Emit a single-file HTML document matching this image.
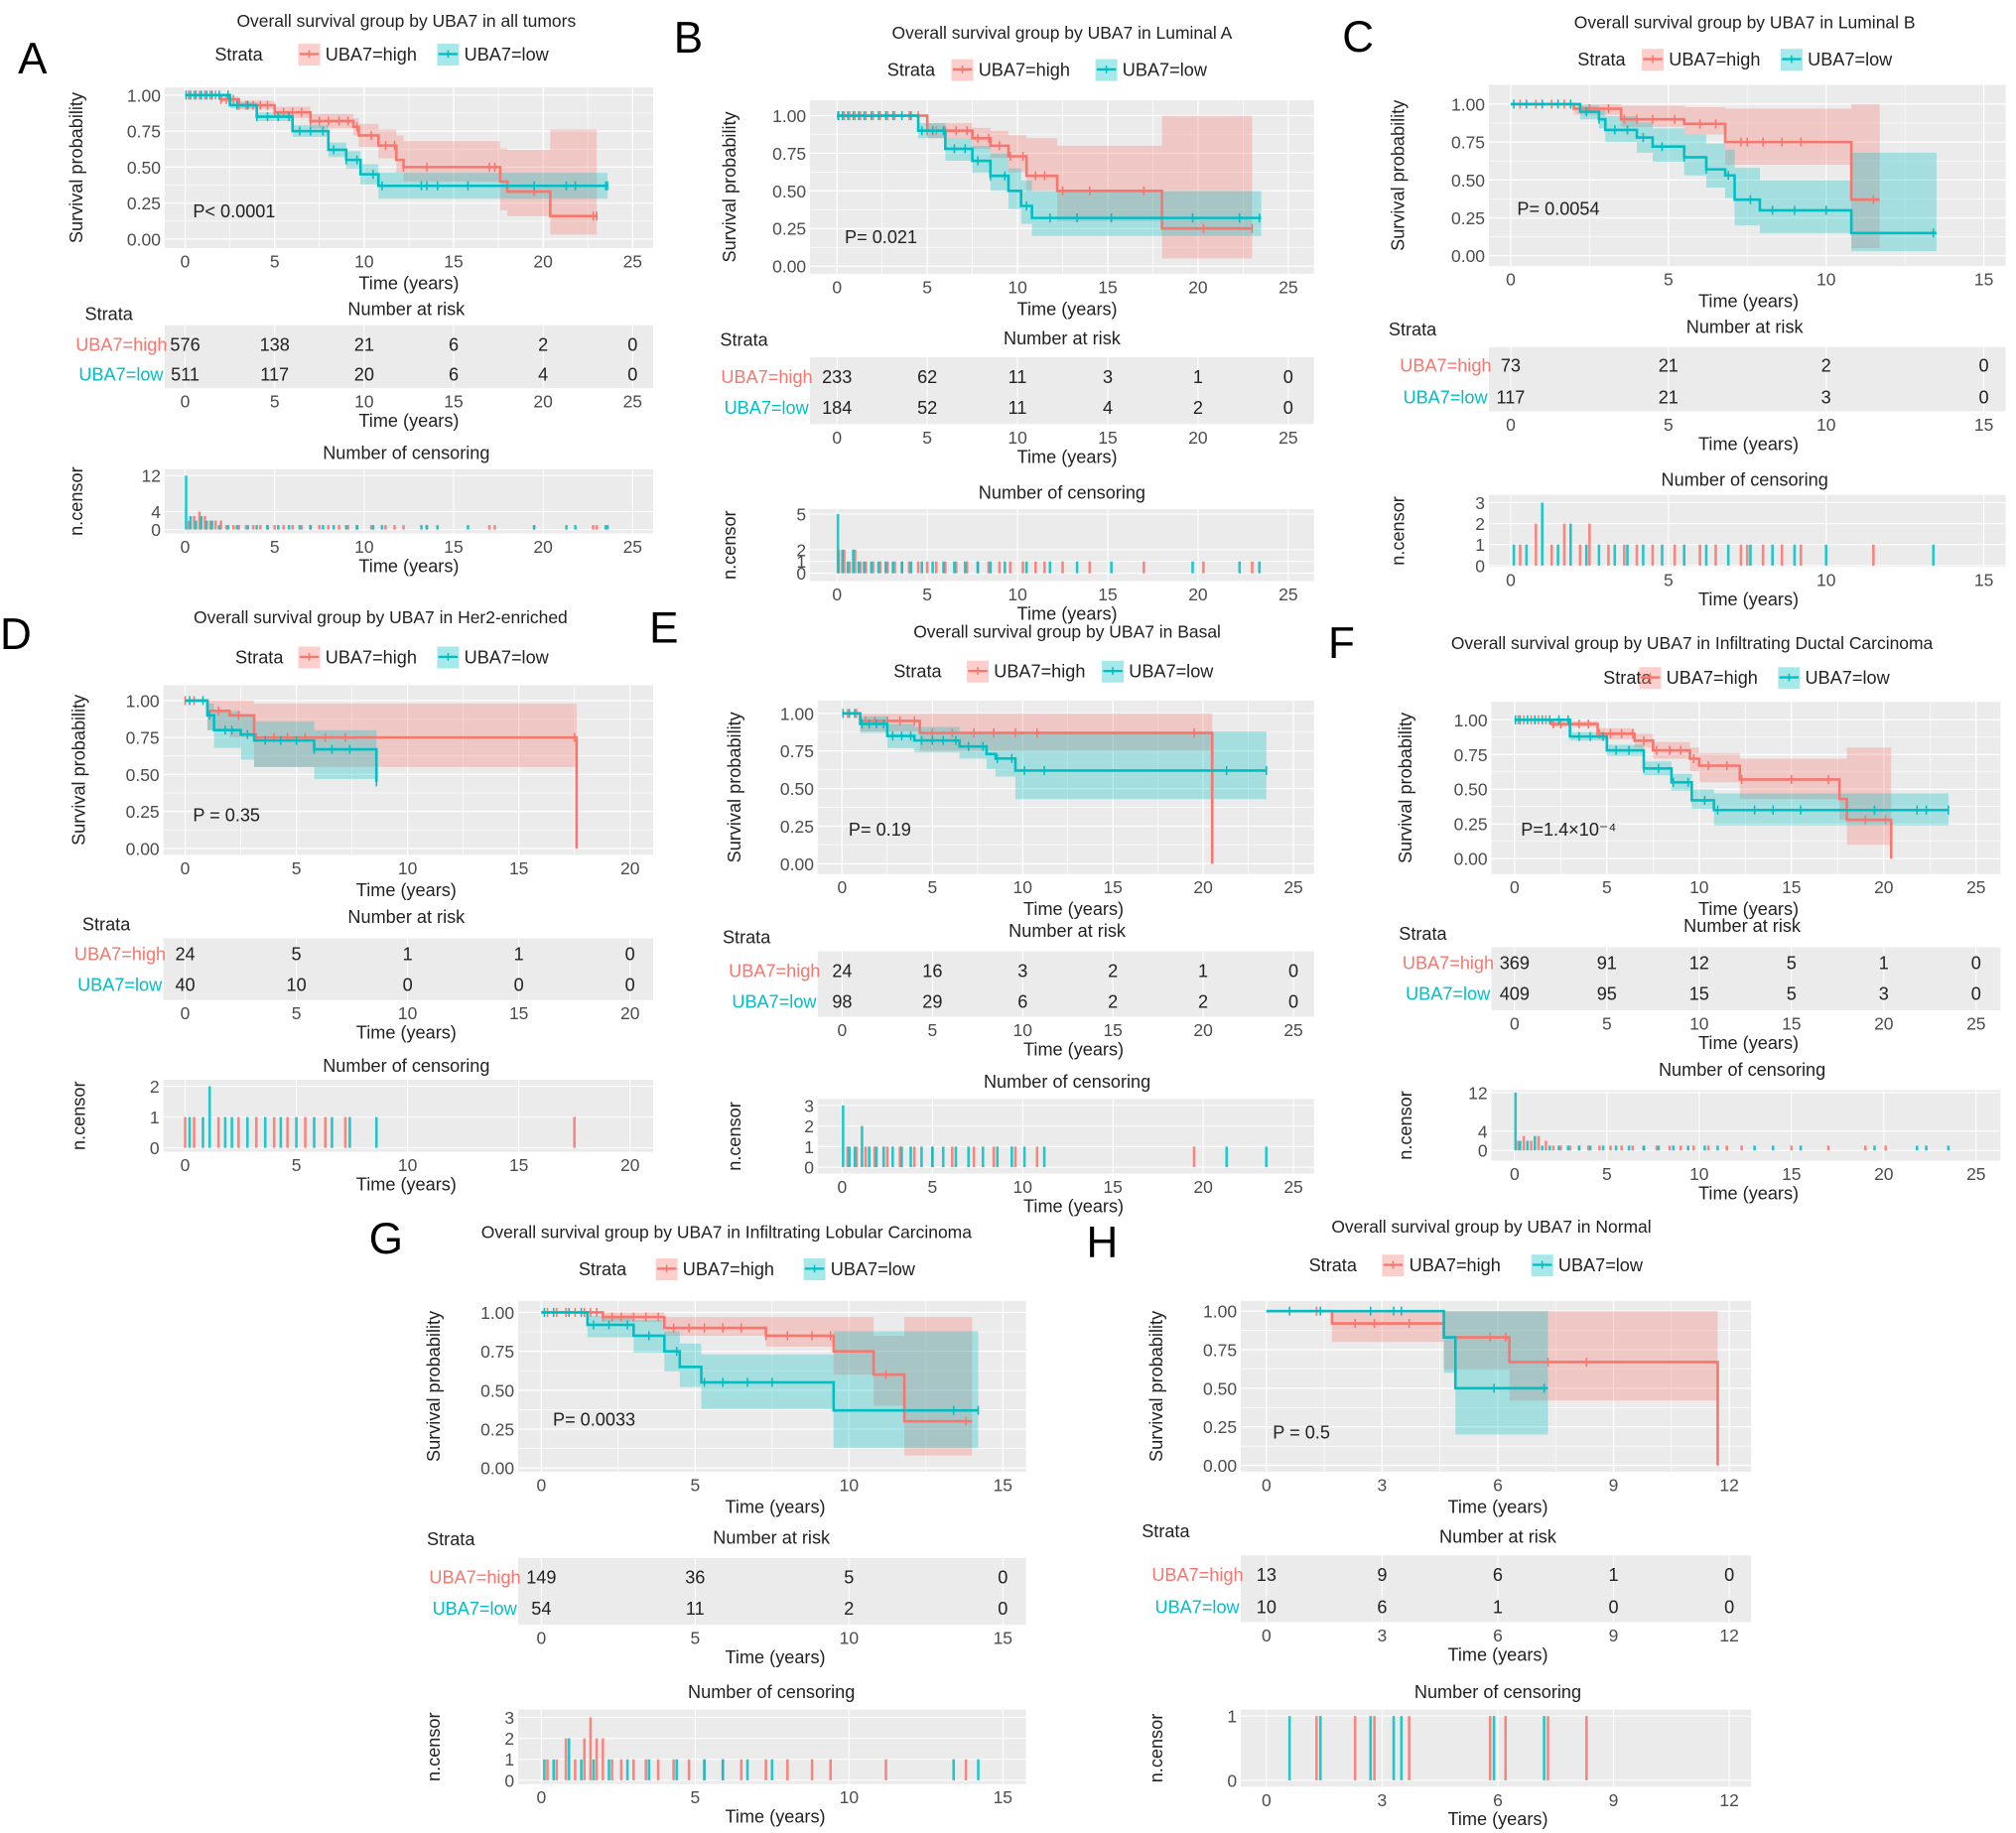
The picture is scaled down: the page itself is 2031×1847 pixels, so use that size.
<!DOCTYPE html>
<html><head><meta charset="utf-8"><title>UBA7 survival</title>
<style>
html,body{margin:0;padding:0;background:#fff;}
svg{display:block;font-family:"Liberation Sans",Arial,sans-serif;}
</style></head>
<body>
<svg id="fig" width="2031" height="1847" viewBox="0 0 1568 1426" xmlns="http://www.w3.org/2000/svg"></svg>
<script>
// ---------------- DATA ----------------
// Panel A
const aHighT=[0,2,3,5,7,9.4,9.7,10.8,11.8,12.2,17.6,18,20.4,23];
const aHighS=[1,.97,.93,.88,.82,.78,.72,.65,.55,.5,.4,.33,.16,.16];
const aHighHi=[1,.99,.96,.92,.87,.84,.8,.76,.72,.68,.63,.62,.76,.76];
const aHighLo=[1,.95,.9,.84,.77,.72,.64,.56,.46,.4,.2,.16,.03,.03];
const aLowT=[0,2.5,4,6,8,9,9.8,10.8,23.6];
const aLowS=[1,.93,.85,.75,.62,.55,.45,.37,.37];
const aLowHi=[1,.95,.88,.79,.67,.61,.52,.46,.46];
const aLowLo=[1,.91,.82,.71,.57,.49,.38,.28,.28];
const aHighC=[0.2,0.5,0.8,1.1,1.4,1.7,2,2.3,2.7,3,3.4,3.8,4.2,4.6,5,5.5,6,6.5,7,7.5,8,8.6,9.1,9.6,10.4,11.2,11.7,12.2,13.5,17,17.3,19.5,22.8,23];
const aHighCN=[2,3,4,3,2,2,2];
const aLowC=[0.05,0.3,0.6,0.9,1.2,1.5,1.9,2.4,2.9,3.5,4,4.6,5.2,5.8,6.4,7,7.7,8.3,9,9.6,10.5,11,13.2,13.5,14.1,15.8,19.5,21.3,21.8,23.5,23.6];
const aLowCN=[12,3,2,3,2,2];
const aRiskHigh=[576,138,21,6,2,0];
const aRiskLow=[511,117,20,6,4,0];
// Panel B
const bHighT=[0,5,7.5,8.5,9.5,10.5,12.2,18,23];
const bHighS=[1,.9,.85,.8,.73,.6,.5,.25,.25];
const bHighHi=[1,.95,.92,.9,.87,.85,.8,1,1];
const bHighLo=[1,.85,.78,.72,.62,.5,.3,.05,.05];
const bLowT=[0,4.5,6,7.5,8.5,9.5,10.2,10.8,23.5];
const bLowS=[1,.9,.78,.7,.6,.5,.4,.32,.32];
const bLowHi=[1,.95,.85,.8,.75,.65,.57,.5,.5];
const bLowLo=[1,.85,.7,.62,.5,.38,.28,.2,.2];
const bHighC=[0.1,0.4,0.7,1,1.3,1.6,2,2.4,2.8,3.2,3.6,4,4.5,5,5.5,6,6.6,7.2,7.8,8.4,9,9.6,10.3,11,11.5,12.5,14,17,20.3,23];
const bHighCN=[2,2,1,2];
const bLowC=[0.05,0.3,0.6,0.9,1.2,1.5,1.9,2.3,2.7,3.1,3.6,4.1,4.7,5.3,5.9,6.5,7.1,7.8,8.5,9.3,10.5,11.8,13.3,15.2,19.7,22.3,23.4];
const bLowCN=[5,2,1,2];
const bRiskHigh=[233,62,11,3,1,0];
const bRiskLow=[184,52,11,4,2,0];
// Panel C
const cHighT=[0,2,3.5,5.5,6.8,10.8,11.7];
const cHighS=[1,.97,.9,.87,.75,.37,.37];
const cHighHi=[1,1,.99,.98,.97,1,1];
const cHighLo=[1,.93,.85,.8,.6,.05,.05];
const cLowT=[0,2.2,2.8,3,4,4.5,5.5,6.2,6.8,7.1,7.9,10.8,13.5];
const cLowS=[1,.95,.9,.83,.78,.72,.65,.57,.53,.37,.3,.15,.15];
const cLowHi=[1,.99,.96,.92,.88,.84,.8,.74,.7,.58,.5,.68,.68];
const cLowLo=[1,.9,.84,.75,.68,.62,.53,.45,.38,.2,.15,.03,.03];
const cHighC=[0.3,0.8,1.3,1.7,2.2,2.5,3.1,3.6,4,4.5,5.2,6,6.5,7.3,7.5,8,8.6,9.2,11.5];
const cHighCN=[1,2,1,2,1,2];
const cLowC=[0.1,0.5,1,1.5,1.9,2.4,2.8,3.3,3.7,4.2,4.8,5.5,6.2,6.9,7.6,8.3,9,10,13.4];
const cLowCN=[1,1,3,1,2];
const cRiskHigh=[73,21,2,0];
const cRiskLow=[117,21,3,0];
// Panel D
const dHighT=[0,1,2,3.1,17.6];
const dHighS=[1,.93,.9,.75,0];
const dHighHi=[1,1,1,.98,.98];
const dHighLo=[1,.8,.75,.55,.55];
const dLowT=[0,1,1.3,2.5,3.1,5.8,8.6];
const dLowS=[1,.9,.8,.77,.73,.67,.45];
const dLowHi=[1,.98,.93,.9,.86,.8,1];
const dLowLo=[1,.8,.68,.6,.55,.47,.2];
const dHighC=[0,0.4,1.5,2.4,3.2,4,4.6,5.4,6.3,7.2,17.5];
const dHighCN=[1];
const dLowC=[0.2,0.8,1.1,1.8,2.1,2.8,3.6,4.3,5,5.8,6.6,7.4,8.6];
const dLowCN=[1,1,2];
const dRiskHigh=[24,5,1,1,0];
const dRiskLow=[40,10,0,0,0];
// Panel E
const eHighT=[0,1,4.3,20.5];
const eHighS=[1,.95,.87,0];
const eHighHi=[1,1,1,1];
const eHighLo=[1,.88,.75,.75];
const eLowT=[0,1,2.5,4,6.5,8,8.5,9.6,23.5];
const eLowS=[1,.93,.85,.82,.78,.73,.7,.62,.62];
const eLowHi=[1,.98,.93,.91,.88,.88,.88,.88,.88];
const eLowLo=[1,.87,.77,.74,.7,.63,.58,.43,.43];
const eHighC=[0.3,0.8,1.3,1.8,2.5,3.2,4,5,6.1,7.3,8.4,9.6,10.8,19.5];
const eHighCN=[1];
const eLowC=[0.05,0.4,0.7,1.1,1.5,1.9,2.3,2.8,3.3,3.8,4.4,5,5.6,6.3,7,7.8,8.6,9.4,10.1,11.2,21.3,23.5];
const eLowCN=[3,1,1,2];
const eRiskHigh=[24,16,3,2,1,0];
const eRiskLow=[98,29,6,2,2,0];
// Panel F
const fHighT=[0,2,4.5,6.5,7.5,9.5,10,12.2,17.6,18,20.4];
const fHighS=[1,.97,.9,.85,.78,.72,.67,.57,.43,.28,0];
const fHighHi=[1,.99,.94,.9,.84,.8,.76,.72,.72,.8,.8];
const fHighLo=[1,.95,.86,.8,.72,.63,.55,.43,.28,.1,.1];
const fLowT=[0,3,5,7,8.5,9.6,10.8,23.5];
const fLowS=[1,.88,.78,.65,.55,.42,.35,.35];
const fLowHi=[1,.91,.82,.7,.61,.5,.47,.47];
const fLowLo=[1,.85,.74,.6,.49,.36,.24,.24];
const fHighC=[0.2,0.5,0.9,1.3,1.7,2.1,2.5,3,3.5,4,4.6,5.2,5.8,6.4,7,7.7,8.4,9,9.7,10.5,11.5,12.3,15,17,19,20.1];
const fHighCN=[2,3,2,3,2];
const fLowC=[0.05,0.3,0.7,1.1,1.5,1.9,2.4,2.9,3.5,4.1,4.8,5.5,6.2,7,7.8,8.6,9.4,10.3,11,13,14,15.5,19.5,21.8,22.3,23.5];
const fLowCN=[12,2,2,3];
const fRiskHigh=[369,91,12,5,1,0];
const fRiskLow=[409,95,15,5,3,0];
// Panel G
const gHighT=[0,2,4,7.3,9.5,10.8,11.8,14];
const gHighS=[1,.97,.9,.85,.75,.6,.3,.3];
const gHighHi=[1,1,.97,.97,.97,.85,.97,.97];
const gHighLo=[1,.94,.85,.78,.6,.4,.08,.08];
const gLowT=[0,1.5,3,4,4.5,5.2,9.5,14.2];
const gLowS=[1,.92,.85,.75,.65,.55,.37,.37];
const gLowHi=[1,.98,.95,.88,.8,.73,.88,.88];
const gLowLo=[1,.84,.74,.62,.52,.38,.13,.13];
const gHighC=[0.2,0.5,0.8,1.1,1.4,1.6,1.8,2,2.3,2.6,3,3.4,3.8,4.3,4.8,5.3,5.9,6.5,7.3,8,8.8,9.4,11.2,13.8];
const gHighCN=[1,1,2,1,2,3,2,2];
const gLowC=[0.1,0.4,0.9,1.3,1.7,2.2,2.8,3.5,4.4,5.3,5.9,6.7,7.5,13.4,14.2];
const gLowCN=[1,1,2];
const gRiskHigh=[149,36,5,0];
const gRiskLow=[54,11,2,0];
// Panel H
const hHighT=[0,1.7,4.6,6.3,11.7];
const hHighS=[1,.92,.83,.67,0];
const hHighHi=[1,1,1,1,1];
const hHighLo=[1,.8,.62,.42,.42];
const hLowT=[0,4.6,4.9,7.3];
const hLowS=[1,.83,.5,.5];
const hLowHi=[1,1,1,1];
const hLowLo=[1,.6,.2,.2];
const hHighC=[1.3,2.3,2.8,3.7,5.8,6.2,7.3,8.3];
const hHighCN=[1];
const hLowC=[0.6,1.4,2.7,3.3,3.5,5.9,7.2];
const hLowCN=[1];
const hRiskHigh=[13,9,6,1,0];
const hRiskLow=[10,6,1,0,0];

// ---------------- DRAWING ----------------
const RED='#F8766D', TEAL='#00BFC4', NS='http://www.w3.org/2000/svg';
const FS=14, FT=13.5;
const svg=document.getElementById('fig');
function el(tag,attrs,parent,text){const e=document.createElementNS(NS,tag);for(const k in attrs)e.setAttribute(k,attrs[k]);if(text!==undefined)e.textContent=text;(parent||svg).appendChild(e);return e;}
function txt(x,y,s,size,anchor,fill,parent,name){const t=el('text',{x:x,y:y,'font-size':size,'text-anchor':anchor||'middle',fill:fill||'#000'},parent,s);


return t;}
function survAt(T,S,c){let s=S[0];for(let i=0;i<T.length;i++){if(T[i]<=c)s=S[i];}return s;}
function stepPath(T,V,xs,ys){let d='M'+xs(T[0])+','+ys(V[0]);for(let i=1;i<T.length;i++){d+=' H'+xs(T[i])+' V'+ys(V[i]);}return d;}
function bandPath(T,H,L,xs,ys){let d='M'+xs(T[0])+','+ys(H[0]);for(let i=1;i<T.length;i++){d+=' H'+xs(T[i])+' V'+ys(H[i]);}
 const n=T.length-1;d+=' V'+ys(L[n]);for(let i=n;i>0;i--){d+=' H'+xs(T[i])+' V'+ys(L[i-1]);}d+=' H'+xs(T[0])+' Z';return d;}

function panel(p){
 const g=el('g',{});
 
 
 txt(p.letterX,p.letterY,p.id,34,'start','#000',g,'panel-letter');
 txt(p.titleX,p.titleY,p.title,13.5,'middle','#222',g,'chart-title');
 const lg=el('g',{},g);
 
 
 txt(p.legStrata,p.legY+5,'Strata',FS,'start','#222',lg,'legend-title');
 [[p.legHi,RED,'UBA7=high'],[p.legLo,TEAL,'UBA7=low']].forEach(function(it){
  const bx=el('rect',{x:it[0],y:p.legY-8,width:17,height:17,fill:it[1],'fill-opacity':.35},lg);
  
  
  el('line',{x1:it[0]+1,x2:it[0]+16,y1:p.legY,y2:p.legY,stroke:it[1],'stroke-width':1.8},lg);
  el('line',{x1:it[0]+8.5,x2:it[0]+8.5,y1:p.legY-3,y2:p.legY+3,stroke:it[1],'stroke-width':1.2},lg);
  txt(it[0]+21,p.legY+5,it[2],FS,'start','#222',lg,'legend-entry');
 });
 const xs=function(t){return p.x0+(p.x1-p.x0)*t/p.xmax;};
 const mp=el('g',{},g);
 
 
 const ys=function(s){return p.yB+(p.yT-p.yB)*s;};
 el('rect',{x:p.bgL,y:p.mT,width:p.bgR-p.bgL,height:p.mB-p.mT,fill:'#EBEBEB'},mp);
 const ticks=[];for(let v=0;v<=p.xmax+1e-9;v+=p.xstep)ticks.push(v);
 ticks.forEach(function(v,i){el('line',{x1:xs(v),x2:xs(v),y1:p.mT,y2:p.mB,stroke:'#fff','stroke-width':1},mp);
   if(i<ticks.length-1)el('line',{x1:xs(v+p.xstep/2),x2:xs(v+p.xstep/2),y1:p.mT,y2:p.mB,stroke:'#fff','stroke-width':.5},mp);});
 [0,.25,.5,.75,1].forEach(function(v,i){el('line',{x1:p.bgL,x2:p.bgR,y1:ys(v),y2:ys(v),stroke:'#fff','stroke-width':1},mp);
   if(i<4)el('line',{x1:p.bgL,x2:p.bgR,y1:ys(v+.125),y2:ys(v+.125),stroke:'#fff','stroke-width':.5},mp);
   txt(p.bgL-3,ys(v)+5,v.toFixed(2),FT,'end','#4d4d4d',mp,'y-tick-label');});
 ticks.forEach(function(v){txt(xs(v),p.mB+15,String(v),FT,'middle','#4d4d4d',mp,'x-tick-label');});
 txt(p.xlabX,p.mB+32,'Time (years)',FS,'middle','#222',mp,'x-axis-title');
 const yl=txt(0,0,'Survival probability',FS,'middle','#222',mp,'y-axis-title');
 yl.setAttribute('transform','translate('+p.ylabX+','+(p.mT+p.mB)/2+') rotate(-90)');
 const curves=[[p.hT,p.hS,p.hHi,p.hLo,p.hC,RED,'high'],[p.lT,p.lS,p.lHi,p.lLo,p.lC,TEAL,'low']];
 curves.forEach(function(c){
  const b=el('path',{d:bandPath(c[0],c[2],c[3],xs,ys),fill:c[5],'fill-opacity':.3,stroke:'none'},mp);
  
  
 });
 curves.forEach(function(c){
  const l=el('path',{d:stepPath(c[0],c[1],xs,ys),fill:'none',stroke:c[5],'stroke-width':2},mp);
  
  
  c[4].forEach(function(t){const s=survAt(c[0],c[1],t);
   el('line',{x1:xs(t),x2:xs(t),y1:ys(s)-3.5,y2:ys(s)+3.5,stroke:c[5],'stroke-width':1.2},mp);});
 });
 txt(p.pX,p.pY,p.pText,FS,'start','#222',mp,'p-value');
 const rt=el('g',{},g);
 
 
 txt(p.rStrataX,p.rStrataY,'Strata',FS,'start','#222',rt,'risk-strata-title');
 txt(p.titleX2,p.rTitleY,'Number at risk',FS,'middle','#222',rt,'risk-title');
 el('rect',{x:p.bgL,y:p.rT,width:p.bgR-p.bgL,height:p.rB-p.rT,fill:'#EBEBEB'},rt);
 ticks.forEach(function(v){el('line',{x1:xs(v),x2:xs(v),y1:p.rT,y2:p.rB,stroke:'#fff','stroke-width':.8},rt);});
 txt(p.bgL+2,p.r1+5,'UBA7=high',FS,'end',RED,rt,'risk-label-high');
 txt(p.bgL-1,p.r2+5,'UBA7=low',FS,'end',TEAL,rt,'risk-label-low');
 p.rH.forEach(function(n,i){txt(xs(ticks[i]),p.r1+5,String(n),FS,'middle','#222',rt,'risk-value-high');});
 p.rL.forEach(function(n,i){txt(xs(ticks[i]),p.r2+5,String(n),FS,'middle','#222',rt,'risk-value-low');});
 ticks.forEach(function(v){txt(xs(v),p.rB+15,String(v),FT,'middle','#4d4d4d',rt,'risk-x-tick');});
 txt(p.xlabX,p.rB+30,'Time (years)',FS,'middle','#222',rt,'risk-x-title');
 const cp=el('g',{},g);
 
 
 txt(p.titleX2,p.cTitleY,'Number of censoring',FS,'middle','#222',cp,'censor-title');
 el('rect',{x:p.bgL,y:p.cT,width:p.bgR-p.bgL,height:p.cB-p.cT,fill:'#EBEBEB'},cp);
 const cy=function(n){return p.c0+(p.cTop-p.c0)*n/p.cMax;};
 ticks.forEach(function(v){el('line',{x1:xs(v),x2:xs(v),y1:p.cT,y2:p.cB,stroke:'#fff','stroke-width':.8},cp);});
 p.cTicks.forEach(function(v){el('line',{x1:p.bgL,x2:p.bgR,y1:cy(v),y2:cy(v),stroke:'#fff','stroke-width':.8},cp);
   txt(p.bgL-3,cy(v)+5,String(v),FT,'end','#4d4d4d',cp,'censor-y-tick');});
 [[p.hC,p.hCN,RED],[p.lC,p.lCN,TEAL]].forEach(function(c){
  c[0].forEach(function(t,i){const n=c[1][i]||1;
   const r=el('rect',{x:xs(t)-1,y:cy(n),width:2,height:cy(0)-cy(n),fill:c[2],'fill-opacity':.85},cp);
   
   
  });});
 ticks.forEach(function(v){txt(xs(v),p.cB+15,String(v),FT,'middle','#4d4d4d',cp,'censor-x-tick');});
 txt(p.xlabX,p.cB+30,'Time (years)',FS,'middle','#222',cp,'censor-x-title');
 const cl=txt(0,0,'n.censor',FS,'middle','#222',cp,'censor-y-title');
 cl.setAttribute('transform','translate('+p.ylabX+','+(p.cT+p.cB)/2+') rotate(-90)');
}
function T(s){return 'Overall survival group by UBA7 in '+s;}

panel({id:'A',letterX:14,letterY:57,title:T('all tumors'),titleX:316,titleY:21,titleX2:316,
 legY:42,legStrata:167,legHi:232,legLo:340,
 bgL:128,bgR:508,mT:68,mB:193,x0:144,x1:492,xmax:25,xstep:5,yT:74,yB:186,xlabX:318,ylabX:64,
 pX:150,pY:169,pText:'P< 0.0001',
 hT:aHighT,hS:aHighS,hHi:aHighHi,hLo:aHighLo,hC:aHighC,hCN:aHighCN,
 lT:aLowT,lS:aLowS,lHi:aLowHi,lLo:aLowLo,lC:aLowC,lCN:aLowCN,
 rStrataX:66,rStrataY:249,rTitleY:245,rT:253,rB:302,r1:268,r2:291,rH:aRiskHigh,rL:aRiskLow,
 cTitleY:357,cT:365,cB:415,c0:412,cTop:370,cMax:12,cTicks:[0,4,12]});
panel({id:'B',letterX:524,letterY:41,title:T('Luminal A'),titleX:826,titleY:30,titleX2:826,
 legY:54,legStrata:690,legHi:740,legLo:852,
 bgL:630,bgR:1022,mT:78,mB:213,x0:651,x1:1002,xmax:25,xstep:5,yT:90,yB:207,xlabX:830,ylabX:572,
 pX:657,pY:189,pText:'P= 0.021',
 hT:bHighT,hS:bHighS,hHi:bHighHi,hLo:bHighLo,hC:bHighC,hCN:bHighCN,
 lT:bLowT,lS:bLowS,lHi:bLowHi,lLo:bLowLo,lC:bLowC,lCN:bLowCN,
 rStrataX:560,rStrataY:269,rTitleY:268,rT:278,rB:330,r1:293,r2:317,rH:bRiskHigh,rL:bRiskLow,
 cTitleY:388,cT:396,cB:452,c0:446,cTop:400,cMax:5,cTicks:[0,1,2,5]});
panel({id:'C',letterX:1044,letterY:40,title:T('Luminal B'),titleX:1357,titleY:22,titleX2:1357,
 legY:46,legStrata:1227,legHi:1277,legLo:1385,
 bgL:1158,bgR:1560,mT:66,mB:207,x0:1175,x1:1543,xmax:15,xstep:5,yT:81,yB:199,xlabX:1360,ylabX:1092,
 pX:1180,pY:167,pText:'P= 0.0054',
 hT:cHighT,hS:cHighS,hHi:cHighHi,hLo:cHighLo,hC:cHighC,hCN:cHighCN,
 lT:cLowT,lS:cLowS,lHi:cLowHi,lLo:cLowLo,lC:cLowC,lCN:cLowCN,
 rStrataX:1080,rStrataY:261,rTitleY:259,rT:270,rB:320,r1:284,r2:309,rH:cRiskHigh,rL:cRiskLow,
 cTitleY:378,cT:385,cB:441,c0:440,cTop:391,cMax:3,cTicks:[0,1,2,3]});
panel({id:'D',letterX:0,letterY:505,title:T('Her2-enriched'),titleX:296,titleY:485,titleX2:316,
 legY:511,legStrata:183,legHi:232,legLo:340,
 bgL:127,bgR:508,mT:533,mB:665,x0:144,x1:490,xmax:20,xstep:5,yT:545,yB:660,xlabX:316,ylabX:66,
 pX:150,pY:639,pText:'P = 0.35',
 hT:dHighT,hS:dHighS,hHi:dHighHi,hLo:dHighLo,hC:dHighC,hCN:dHighCN,
 lT:dLowT,lS:dLowS,lHi:dLowHi,lLo:dLowLo,lC:dLowC,lCN:dLowCN,
 rStrataX:64,rStrataY:724,rTitleY:718,rT:730,rB:778,r1:742,r2:766,rH:dRiskHigh,rL:dRiskLow,
 cTitleY:834,cT:840,cB:896,c0:893,cTop:845,cMax:2,cTicks:[0,1,2]});
panel({id:'E',letterX:505,letterY:500,title:T('Basal'),titleX:830,titleY:496,titleX2:830,
 legY:522,legStrata:695,legHi:752,legLo:857,
 bgL:636,bgR:1022,mT:545,mB:680,x0:655,x1:1006,xmax:25,xstep:5,yT:555,yB:672,xlabX:835,ylabX:576,
 pX:660,pY:650,pText:'P= 0.19',
 hT:eHighT,hS:eHighS,hHi:eHighHi,hLo:eHighLo,hC:eHighC,hCN:eHighCN,
 lT:eLowT,lS:eLowS,lHi:eLowHi,lLo:eLowLo,lC:eLowC,lCN:eLowCN,
 rStrataX:562,rStrataY:734,rTitleY:729,rT:740,rB:791,r1:755,r2:779,rH:eRiskHigh,rL:eRiskLow,
 cTitleY:846,cT:855,cB:913,c0:908,cTop:860,cMax:3,cTicks:[0,1,2,3]});
panel({id:'F',letterX:1033,letterY:512,title:T('Infiltrating Ductal Carcinoma'),titleX:1316,titleY:505,titleX2:1355,
 legY:527,legStrata:1247,legHi:1275,legLo:1383,
 bgL:1160,bgR:1556,mT:546,mB:680,x0:1178,x1:1537,xmax:25,xstep:5,yT:560,yB:668,xlabX:1360,ylabX:1098,
 pX:1183,pY:650,pText:'P=1.4×10⁻⁴',
 hT:fHighT,hS:fHighS,hHi:fHighHi,hLo:fHighLo,hC:fHighC,hCN:fHighCN,
 lT:fLowT,lS:fLowS,lHi:fLowHi,lLo:fLowLo,lC:fLowC,lCN:fLowCN,
 rStrataX:1088,rStrataY:731,rTitleY:725,rT:737,rB:786,r1:749,r2:773,rH:fRiskHigh,rL:fRiskLow,
 cTitleY:837,cT:848,cB:903,c0:895,cTop:850,cMax:12,cTicks:[0,4,12]});
panel({id:'G',letterX:287,letterY:975,title:T('Infiltrating Lobular Carcinoma'),titleX:565,titleY:963,titleX2:600,
 legY:987,legStrata:450,legHi:510,legLo:625,
 bgL:403,bgR:798,mT:1012,mB:1145,x0:421,x1:780,xmax:15,xstep:5,yT:1021,yB:1142,xlabX:603,ylabX:342,
 pX:430,pY:1109,pText:'P= 0.0033',
 hT:gHighT,hS:gHighS,hHi:gHighHi,hLo:gHighLo,hC:gHighC,hCN:gHighCN,
 lT:gLowT,lS:gLowS,lHi:gLowHi,lLo:gLowLo,lC:gLowC,lCN:gLowCN,
 rStrataX:332,rStrataY:1202,rTitleY:1201,rT:1212,rB:1264,r1:1227,r2:1251,rH:gRiskHigh,rL:gRiskLow,
 cTitleY:1321,cT:1330,cB:1388,c0:1385,cTop:1336,cMax:3,cTicks:[0,1,2,3]});
panel({id:'H',letterX:845,letterY:978,title:T('Normal'),titleX:1160,titleY:959,titleX2:1165,
 legY:984,legStrata:1018,legHi:1075,legLo:1191,
 bgL:965,bgR:1362,mT:1012,mB:1145,x0:985,x1:1345,xmax:12,xstep:3,yT:1020,yB:1140,xlabX:1165,ylabX:904,
 pX:990,pY:1119,pText:'P = 0.5',
 hT:hHighT,hS:hHighS,hHi:hHighHi,hLo:hHighLo,hC:hHighC,hCN:hHighCN,
 lT:hLowT,lS:hLowS,lHi:hLowHi,lLo:hLowLo,lC:hLowC,lCN:hLowCN,
 rStrataX:888,rStrataY:1196,rTitleY:1200,rT:1210,rB:1262,r1:1225,r2:1250,rH:hRiskHigh,rL:hRiskLow,
 cTitleY:1321,cT:1330,cB:1390,c0:1385,cTop:1335,cMax:1,cTicks:[0,1]});
</script>
</body></html>
